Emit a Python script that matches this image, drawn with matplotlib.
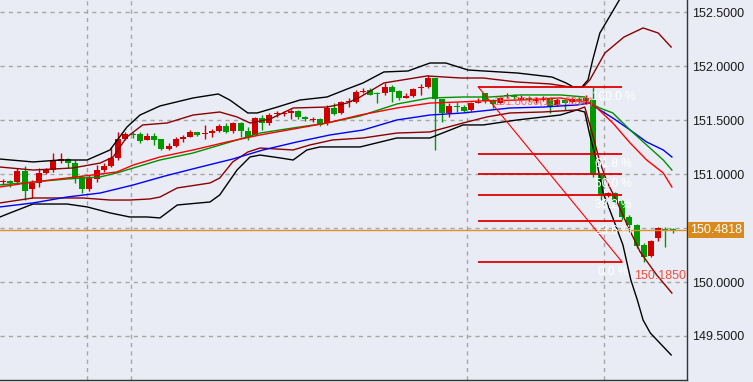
import matplotlib
matplotlib.use('Agg')
import matplotlib.pyplot as plt
import numpy as np

plt.rcParams['font.family'] = ['Liberation Sans', 'DejaVu Sans']

# candles, one per bar (left to right)
opens = [150.927, 150.937, 150.927, 151.029, 150.862, 150.918, 151.011, 151.038, 151.122, 151.140,
         151.103, 150.974, 150.862, 150.955, 151.038, 151.076, 151.150, 151.326, 151.372, 151.372,
         151.317, 151.354, 151.326, 151.233, 151.261, 151.326, 151.344, 151.391, 151.372, 151.381,
         151.400, 151.446, 151.400, 151.474, 151.400, 151.363, 151.520, 151.474, 151.557, 151.557,
         151.567, 151.585, 151.530, 151.502, 151.511, 151.474, 151.613, 151.567, 151.669, 151.669,
         151.761, 151.780, 151.752, 151.752, 151.808, 151.771, 151.706, 151.724, 151.798, 151.808,
         151.891, 151.696, 151.567, 151.632, 151.622, 151.595, 151.659, 151.752, 151.678, 151.659,
         151.724, 151.734, 151.687, 151.706, 151.678, 151.687, 151.696, 151.641, 151.687, 151.669,
         151.696, 151.678, 151.687, 150.992, 150.798, 150.825, 150.751, 150.603, 150.529, 150.344,
         150.241, 150.408, 150.492, 150.492]
highs = [150.955, 150.946, 151.057, 151.076, 150.946, 151.057, 151.057, 151.196, 151.196, 151.150,
         151.131, 150.992, 150.992, 151.085, 151.103, 151.252, 151.391, 151.391, 151.391, 151.391,
         151.381, 151.381, 151.326, 151.289, 151.344, 151.363, 151.409, 151.391, 151.456, 151.418,
         151.465, 151.474, 151.483, 151.483, 151.437, 151.530, 151.548, 151.567, 151.585, 151.585,
         151.604, 151.595, 151.539, 151.530, 151.520, 151.641, 151.659, 151.678, 151.706, 151.780,
         151.798, 151.798, 151.761, 151.845, 151.826, 151.780, 151.752, 151.798, 151.836, 151.919,
         151.891, 151.696, 151.659, 151.669, 151.641, 151.669, 151.706, 151.752, 151.696, 151.724,
         151.752, 151.743, 151.734, 151.724, 151.715, 151.724, 151.715, 151.706, 151.706, 151.715,
         151.715, 151.734, 151.809, 151.011, 150.835, 150.835, 150.770, 150.621, 150.538, 150.362,
         150.390, 150.510, 150.510, 150.501]
lows = [150.900, 150.881, 150.909, 150.760, 150.779, 150.881, 151.001, 151.020, 151.103, 151.057,
        150.918, 150.825, 150.844, 150.927, 151.020, 151.066, 151.131, 151.317, 151.335, 151.289,
        151.317, 151.270, 151.224, 151.224, 151.252, 151.298, 151.344, 151.354, 151.326, 151.344,
        151.391, 151.381, 151.381, 151.344, 151.317, 151.363, 151.409, 151.456, 151.530, 151.539,
        151.511, 151.511, 151.493, 151.483, 151.446, 151.456, 151.548, 151.557, 151.622, 151.659,
        151.752, 151.734, 151.659, 151.734, 151.669, 151.687, 151.706, 151.715, 151.734, 151.798,
        151.224, 151.483, 151.530, 151.576, 151.576, 151.585, 151.659, 151.659, 151.613, 151.650,
        151.706, 151.696, 151.678, 151.669, 151.659, 151.678, 151.567, 151.632, 151.595, 151.659,
        151.659, 151.650, 150.974, 150.760, 150.788, 150.723, 150.575, 150.464, 150.316, 150.185,
        150.232, 150.380, 150.325, 150.455]
closes = [150.937, 150.918, 151.029, 150.844, 150.918, 151.011, 151.038, 151.122, 151.140, 151.103,
          150.964, 150.862, 150.964, 151.038, 151.076, 151.150, 151.326, 151.372, 151.363, 151.307,
          151.354, 151.317, 151.233, 151.261, 151.326, 151.344, 151.391, 151.363, 151.381, 151.400,
          151.446, 151.391, 151.474, 151.400, 151.344, 151.520, 151.474, 151.548, 151.567, 151.567,
          151.585, 151.530, 151.511, 151.511, 151.456, 151.613, 151.557, 151.669, 151.678, 151.761,
          151.771, 151.734, 151.743, 151.808, 151.761, 151.706, 151.724, 151.789, 151.808, 151.891,
          151.696, 151.567, 151.632, 151.622, 151.585, 151.659, 151.669, 151.678, 151.650, 151.706,
          151.734, 151.715, 151.706, 151.687, 151.696, 151.696, 151.632, 151.687, 151.659, 151.696,
          151.678, 151.706, 150.992, 150.807, 150.825, 150.742, 150.603, 150.529, 150.334, 150.232,
          150.380, 150.501, 150.473, 150.4818]

# indicator lines: (bar index, price)
bb_outer_up_x = [-0.42, 4.17, 7.92, 11.67, 14.86, 17.22, 19.03, 21.8, 26.4, 29.9,
                 31.5, 34.0, 35.3, 38.1, 41.25, 45.0, 47.8, 50.0, 52.9, 56.25,
                 59.3, 61.5, 64.6, 71.5, 76.25, 78.2, 79.2, 80.4, 81.25, 81.9,
                 82.9, 85.6, 89.0, 93.0]
bb_outer_up = [151.140, 151.113, 151.131, 151.131, 151.224, 151.437, 151.548, 151.632, 151.706, 151.743,
               151.687, 151.567, 151.567, 151.622, 151.687, 151.715, 151.789, 151.845, 151.947, 151.956,
               152.030, 152.030, 151.965, 151.937, 151.900, 151.845, 151.808, 151.808, 151.873, 152.058,
               152.308, 152.614, 152.98, 153.35]
bb_inner_up_x = [-0.42, 4.17, 9.7, 13.5, 15.3, 17.2, 19.4, 22.8, 26.4, 30.1,
                 32.5, 34.3, 37.1, 40.3, 45.0, 47.8, 49.6, 52.9, 58.9, 63.6,
                 66.7, 71.4, 76.0, 78.75, 80.6, 81.5, 83.6, 86.25, 88.9, 91.0, 92.8]
bb_inner_up = [151.066, 151.038, 151.057, 151.103, 151.159, 151.344, 151.456, 151.474, 151.548, 151.576,
               151.530, 151.474, 151.511, 151.613, 151.622, 151.659, 151.715, 151.845, 151.910, 151.891,
               151.891, 151.854, 151.836, 151.808, 151.808, 151.873, 152.123, 152.271, 152.355, 152.308, 152.178]
ma_red_x = [-0.42, 4.17, 8.9, 13.5, 15.8, 18.1, 21.8, 26.4, 31.1, 35.7,
            40.3, 45.0, 49.6, 54.7, 59.3, 63.5, 66.25, 71.8, 77.4, 81.5,
            82.5, 84.7, 87.1, 89.4, 91.7, 92.9]
ma_red = [150.881, 150.927, 150.964, 151.001, 151.020, 151.085, 151.159, 151.224, 151.298, 151.363,
          151.418, 151.474, 151.548, 151.613, 151.659, 151.669, 151.678, 151.687, 151.706, 151.659,
          151.613, 151.474, 151.289, 151.131, 151.011, 150.881]
ma_green_x = [-0.42, 4.17, 8.9, 13.5, 15.8, 18.1, 21.8, 26.4, 31.1, 35.7,
              40.3, 45.0, 49.6, 54.7, 59.3, 63.9, 67.6, 71.8, 77.4, 80.8,
              81.5, 82.9, 84.7, 87.1, 89.4, 91.7, 92.9]
ma_green = [150.900, 150.927, 150.955, 150.974, 151.011, 151.057, 151.131, 151.196, 151.289, 151.381,
            151.428, 151.474, 151.539, 151.650, 151.706, 151.715, 151.715, 151.734, 151.734, 151.715,
            151.659, 151.613, 151.567, 151.409, 151.270, 151.131, 151.038]
ma_blue_x = [-0.42, 4.17, 8.9, 13.5, 18.1, 22.5, 27.4, 31.9, 36.1, 40.8,
             45.4, 50.0, 54.7, 59.3, 63.9, 70.4, 75.0, 79.7, 81.5, 82.9,
             84.7, 87.1, 89.4, 91.7, 92.9]
ma_blue = [150.696, 150.733, 150.788, 150.825, 150.900, 150.983, 151.066, 151.140, 151.224, 151.298,
           151.363, 151.409, 151.502, 151.548, 151.567, 151.613, 151.622, 151.641, 151.659, 151.595,
           151.520, 151.409, 151.298, 151.224, 151.159]
bb_inner_dn_x = [-0.42, 4.17, 11.1, 14.9, 17.6, 20.4, 21.8, 24.2, 28.75, 30.1,
                 31.9, 34.0, 35.7, 40.3, 42.6, 45.8, 50.0, 54.7, 59.3, 63.9,
                 67.2, 70.4, 75.0, 79.7, 80.8, 81.9, 82.9, 83.9, 85.3, 86.7,
                 88.5, 90.8, 92.9]
bb_inner_dn = [150.733, 150.779, 150.779, 150.760, 150.760, 150.770, 150.788, 150.872, 150.918, 150.964,
               151.113, 151.205, 151.242, 151.224, 151.270, 151.317, 151.335, 151.381, 151.391, 151.474,
               151.530, 151.567, 151.576, 151.595, 151.622, 151.363, 151.113, 150.927, 150.742, 150.529,
               150.278, 150.065, 149.898]
bb_outer_dn_x = [-0.42, 0.97, 4.17, 8.9, 11.7, 14.9, 17.6, 20.0, 21.8, 24.2,
                 28.75, 30.1, 32.5, 34.3, 35.7, 38.5, 40.3, 42.2, 44.0, 49.6,
                 54.7, 59.3, 63.9, 66.7, 71.4, 77.4, 79.7, 80.8, 81.5, 82.5,
                 83.3, 84.7, 86.1, 87.2, 88.1, 88.9, 89.9, 92.8]
bb_outer_dn = [150.603, 150.640, 150.723, 150.723, 150.696, 150.640, 150.603, 150.603, 150.594, 150.714,
               150.742, 150.807, 151.038, 151.159, 151.177, 151.150, 151.131, 151.224, 151.252, 151.252,
               151.335, 151.335, 151.456, 151.456, 151.502, 151.548, 151.595, 151.576, 151.363, 151.103,
               150.835, 150.594, 150.344, 150.019, 149.834, 149.648, 149.528, 149.324]

# fibonacci retracement tool
fib_high = 151.809
fib_low = 150.185
fib_start, fib_end = 66, 86
fib_levels = [1.0, 0.618, 0.5, 0.382, 0.236, 0.0]
fib_names = ['100.0 %', '61.8 %', '50.0 %', '38.2 %', '23.6 %', '0.0 %']

last_price = 150.4818
price_ticks = [149.5, 150.0, 150.5, 151.0, 151.5, 152.0, 152.5]
session_breaks = [11.67, 17.78, 64.44, 83.47]

BG = '#e9ecf4'
UP = '#d00000'
DOWN = '#009a00'

fig = plt.figure(figsize=(7.53, 3.82), dpi=100, facecolor=BG)
ax = fig.add_axes([0, 2 / 382, 687 / 753, 380 / 382])
ax.set_facecolor(BG)

o = np.array(opens)
h = np.array(highs)
l = np.array(lows)
c = np.array(closes)
idx = np.arange(len(o))
cols = np.where(c > o, UP, DOWN)

ax.vlines(idx, l, h, colors=cols, lw=1, zorder=3)
ax.bar(idx, np.maximum(np.abs(c - o), 0.008), bottom=np.minimum(o, c), width=0.82,
       color=cols, linewidth=0, zorder=3)

ax.plot(bb_outer_up_x, bb_outer_up, color='black', lw=1, zorder=4)
ax.plot(bb_outer_dn_x, bb_outer_dn, color='black', lw=1, zorder=4)
ax.plot(bb_inner_up_x, bb_inner_up, color='#8b0000', lw=1, zorder=4)
ax.plot(bb_inner_dn_x, bb_inner_dn, color='#8b0000', lw=1, zorder=4)
ax.plot(ma_blue_x, ma_blue, color='#0000ff', lw=1, zorder=4)
ax.plot(ma_green_x, ma_green, color='#009000', lw=1, zorder=4)
ax.plot(ma_red_x, ma_red, color='#ff0000', lw=1, zorder=4)

ax.axhline(last_price, color='#e0902a', lw=1, zorder=4)

# fib levels
rng = fib_high - fib_low
for lev, name in zip(fib_levels, fib_names):
    yv = fib_low + lev * rng
    ax.hlines(yv, fib_start, fib_end, color='#e00000', lw=1.3, zorder=5)
    ax.annotate(name, xy=(fib_end - 1.2, yv), xytext=(0, -10), textcoords='offset pixels',
                ha='center', va='center', color='white', fontsize=8.5, zorder=6)
ax.plot([fib_start, fib_end], [fib_high, fib_low], color='#ff0000', lw=0.8, zorder=5)
ax.annotate(f'{fib_high:.4f}({fib_high:.4f})', xy=(fib_start + 2, fib_high), xytext=(0, -15),
            textcoords='offset pixels', ha='left', va='center', color='#ff5a5a',
            fontsize=8, alpha=0.9, zorder=6)
ax.annotate(f'{fib_low:.4f}', xy=(1, fib_low), xycoords=('axes fraction', 'data'),
            xytext=(-1, -14), textcoords='offset pixels', ha='right', va='center',
            color='#f0503c', fontsize=9, zorder=6)

ax.set_xlim(-0.417, 95.0)
ax.set_ylim(149.092, 152.614)

ax.yaxis.tick_right()
ax.set_yticks(price_ticks)
ax.set_yticklabels(['' if abs(t - last_price) < 0.05 else f'{t:.4f}' for t in price_ticks])
ax.set_xticks(session_breaks)
ax.set_xticklabels([])
ax.tick_params(axis='both', length=0)
ax.tick_params(axis='y', pad=4, labelsize=9, colors='#1a1a1a')
ax.grid(True, color='#a6a6a6', lw=1, linestyle=(0, (3, 3)), zorder=0)
ax.set_axisbelow(True)

for side in ['left', 'top']:
    ax.spines[side].set_visible(False)
for side in ['right', 'bottom']:
    ax.spines[side].set_color('#333333')
    ax.spines[side].set_linewidth(1)

ax.annotate(f'{last_price:.4f}', xy=(1, last_price), xycoords=('axes fraction', 'data'),
            xytext=(3, 0), textcoords='offset pixels', ha='left', va='center', color='white',
            fontsize=9, annotation_clip=False, zorder=10,
            bbox=dict(boxstyle='square,pad=0.15', fc='#d98a1d', ec='none'))

fig.savefig('out.png', dpi=100, facecolor=BG)
